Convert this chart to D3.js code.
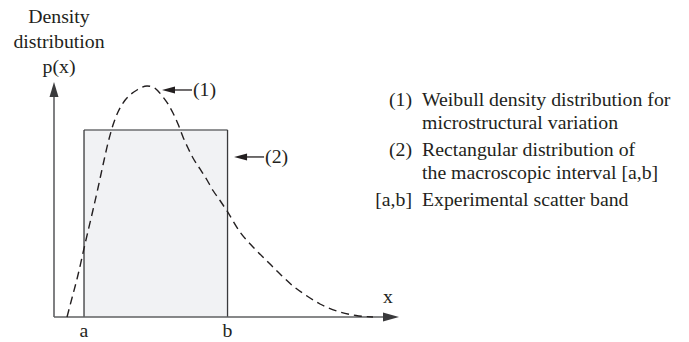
<!DOCTYPE html>
<html>
<head>
<meta charset="utf-8">
<script src="https://cdn.jsdelivr.net/npm/d3@7"></script>
<style>
  html, body { margin: 0; padding: 0; background: #fff; }
  svg { display: block; }
  text { font-family: "Liberation Serif", "Times New Roman", serif; fill: #231f20; }
</style>
</head>
<body>
<svg id="chart" width="689" height="342"></svg>
<script>
// Weibull density curve, sampled points (x, p(x)) in plot units
const curveX = [3.77, 5.22, 6.67, 8.99, 11.30, 12.75, 14.20, 15.65, 17.10, 18.55, 20.0, 22.03, 24.06, 26.96,
                28.70, 30.14, 31.59, 33.04, 34.49, 35.94, 37.39, 38.84, 40.29, 42.32, 44.35, 46.09, 48.12, 50.14,
                53.91, 57.68, 61.74, 65.51, 69.28, 73.33, 77.10, 82.90, 87.54, 92.46];
const curveY = [0, 8.09, 16.17, 31.06, 45.53, 54.89, 64.68, 74.04, 81.70, 87.23, 91.06, 94.47, 96.60, 98.30,
                97.87, 96.17, 93.62, 90.64, 86.81, 82.13, 76.60, 71.91, 67.66, 62.98, 58.30, 53.83, 49.57, 45.11,
                36.17, 29.79, 23.83, 18.30, 13.19, 8.94, 5.53, 2.13, 0.64, 0];

// Rectangular distribution on the scatter band [a,b]
const bandLabels = ["a", "b"];
const bandBounds = [8.7, 50.3];
const bandHeight = [79.6];

// Axis extents and labels
const xExtent = [0, 100];
const yExtent = [0, 100];
const yAxisTitle = ["Density", "distribution", "p(x)"];
const xAxisTitle = ["x"];

// Callouts: arrow tip (plot units) and label
const calloutLabels = ["(1)", "(2)"];
const calloutTipX = [31.3, 52.2];
const calloutTipY = [96.6, 68.1];

// Legend rows: key and description lines
const legendKeys = ["(1)", "(2)", "[a,b]"];
const legendLines = [
  ["Weibull density distribution for", "microstructural variation"],
  ["Rectangular distribution of", "the macroscopic interval [a,b]"],
  ["Experimental scatter band"]
];

const svg = d3.select("#chart");
const x = d3.scaleLinear().domain(xExtent).range([54, 399]);
const y = d3.scaleLinear().domain(yExtent).range([317, 82]);
const FS = 19.8;

// shaded rectangle
svg.append("rect")
  .attr("x", x(bandBounds[0]))
  .attr("y", y(bandHeight[0]))
  .attr("width", x(bandBounds[1]) - x(bandBounds[0]))
  .attr("height", y(0) - y(bandHeight[0]))
  .attr("fill", "#f1f2f4")
  .attr("stroke", "none");
// rectangle outline: top in grey, sides darker
svg.append("line")
  .attr("x1", x(bandBounds[0])).attr("x2", x(bandBounds[1]))
  .attr("y1", y(bandHeight[0])).attr("y2", y(bandHeight[0]))
  .attr("stroke", "#6d6e71").attr("stroke-width", 1.4);
bandBounds.forEach(v => {
  svg.append("line")
    .attr("x1", x(v)).attr("x2", x(v))
    .attr("y1", y(bandHeight[0])).attr("y2", y(0))
    .attr("stroke", "#3a3a3c").attr("stroke-width", 1.3);
});

// axes with arrowheads
const axisColor = "#5f6062";
svg.append("line")
  .attr("x1", x(0)).attr("x2", x(0))
  .attr("y1", y(0)).attr("y2", y(yExtent[1]) + 10)
  .attr("stroke", axisColor).attr("stroke-width", 1.6);
svg.append("line")
  .attr("x1", x(0)).attr("x2", x(xExtent[1]) - 10)
  .attr("y1", y(0)).attr("y2", y(0))
  .attr("stroke", axisColor).attr("stroke-width", 1.6);
svg.append("path")
  .attr("d", `M${x(0)},${y(yExtent[1])} l-4.5,15 l9,0 Z`)
  .attr("fill", "#3a3a3c");
svg.append("path")
  .attr("d", `M${x(xExtent[1])},${y(0)} l-16,-4.5 l0,9 Z`)
  .attr("fill", "#3a3a3c");

// dashed Weibull curve
const pts = curveX.map((v, i) => [v, curveY[i]]);
svg.append("path")
  .datum(pts)
  .attr("d", d3.line().x(d => x(d[0])).y(d => y(d[1])).curve(d3.curveMonotoneX))
  .attr("fill", "none")
  .attr("stroke", "#231f20")
  .attr("stroke-width", 1.4)
  .attr("stroke-dasharray", "8,5");

// band labels a, b
bandLabels.forEach((t, i) => {
  svg.append("text")
    .attr("x", x(bandBounds[i])).attr("y", y(0) + 20)
    .attr("text-anchor", "middle").attr("font-size", FS).text(t);
});

// axis titles
yAxisTitle.forEach((t, i) => {
  svg.append("text")
    .attr("x", 59).attr("y", 23 + i * 25)
    .attr("text-anchor", "middle").attr("font-size", FS).text(t);
});
svg.append("text")
  .attr("x", 388).attr("y", y(0) - 14)
  .attr("text-anchor", "middle").attr("font-size", FS).text(xAxisTitle[0]);

// callout arrows
calloutLabels.forEach((t, i) => {
  const tx = x(calloutTipX[i]), ty = y(calloutTipY[i]);
  svg.append("line")
    .attr("x1", tx + 10).attr("x2", tx + 30)
    .attr("y1", ty).attr("y2", ty)
    .attr("stroke", "#231f20").attr("stroke-width", 1.3);
  svg.append("path")
    .attr("d", `M${tx},${ty} l13,-3.5 l0,7 Z`)
    .attr("fill", "#231f20");
  svg.append("text")
    .attr("x", tx + 31).attr("y", ty + 6.5)
    .attr("font-size", FS).text(t);
});

// legend
let rowY = 106;
legendKeys.forEach((k, i) => {
  svg.append("text")
    .attr("x", 412).attr("y", rowY)
    .attr("text-anchor", "end").attr("font-size", FS).text(k);
  legendLines[i].forEach((line, j) => {
    svg.append("text")
      .attr("x", 422).attr("y", rowY + j * 23)
      .attr("font-size", FS).text(line);
  });
  rowY += legendLines[i].length * 23 + 4;
});
</script>
</body>
</html>
